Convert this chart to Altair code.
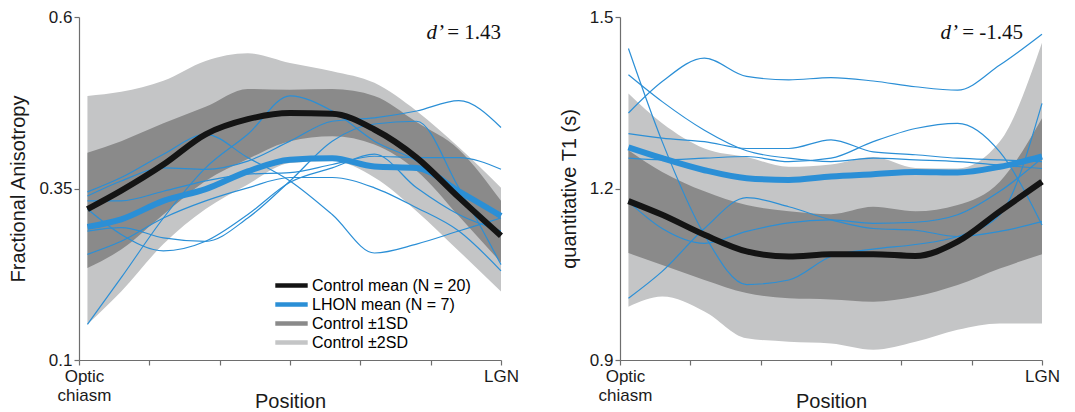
import altair as alt
import pandas as pd

# Positions along the optic tract (0 = optic chiasm, 100 = LGN)
X = [2, 10, 20, 30, 40, 50, 60, 70, 80, 90, 100]

# ---------- Left panel: Fractional Anisotropy ----------
FA_CTRL_MEAN = [0.320, 0.347, 0.385, 0.429, 0.451, 0.460, 0.459, 0.436, 0.395, 0.337, 0.281]
FA_LHON_MEAN = [0.294, 0.305, 0.332, 0.349, 0.375, 0.392, 0.394, 0.382, 0.380, 0.346, 0.310]
FA_SD1_LO = [0.234, 0.261, 0.312, 0.361, 0.393, 0.419, 0.426, 0.414, 0.376, 0.310, 0.242]
FA_SD1_HI = [0.402, 0.419, 0.445, 0.469, 0.495, 0.494, 0.495, 0.485, 0.447, 0.407, 0.332]
FA_SD2_LO = [0.152, 0.200, 0.269, 0.320, 0.356, 0.387, 0.390, 0.366, 0.317, 0.259, 0.200]
FA_SD2_HI = [0.485, 0.491, 0.507, 0.536, 0.547, 0.533, 0.521, 0.504, 0.463, 0.410, 0.351]
FA_S1 = [0.152, 0.220, 0.307, 0.380, 0.429, 0.485, 0.463, 0.419, 0.390, 0.341, 0.283]
FA_S2 = [0.345, 0.366, 0.400, 0.429, 0.395, 0.361, 0.312, 0.256, 0.269, 0.288, 0.307]
FA_S3 = [0.339, 0.361, 0.380, 0.378, 0.390, 0.419, 0.448, 0.453, 0.463, 0.478, 0.439]
FA_S4 = [0.332, 0.332, 0.346, 0.361, 0.371, 0.373, 0.385, 0.397, 0.395, 0.395, 0.378]
FA_S5 = [0.320, 0.283, 0.259, 0.273, 0.312, 0.359, 0.380, 0.400, 0.351, 0.312, 0.288]
FA_S6 = [0.254, 0.273, 0.307, 0.332, 0.351, 0.366, 0.366, 0.351, 0.322, 0.288, 0.230]
FA_S7 = [0.288, 0.293, 0.278, 0.273, 0.307, 0.361, 0.419, 0.444, 0.448, 0.351, 0.239]

# ---------- Right panel: quantitative T1 ----------
T1_CTRL_MEAN = [1.178, 1.154, 1.119, 1.090, 1.081, 1.085, 1.085, 1.082, 1.107, 1.160, 1.212]
T1_LHON_MEAN = [1.272, 1.253, 1.232, 1.218, 1.215, 1.221, 1.225, 1.229, 1.228, 1.238, 1.256]
T1_SD1_LO = [1.087, 1.066, 1.040, 1.017, 1.008, 1.006, 1.002, 1.011, 1.031, 1.060, 1.085]
T1_SD1_HI = [1.267, 1.229, 1.195, 1.171, 1.160, 1.155, 1.168, 1.160, 1.171, 1.212, 1.323]
T1_SD2_LO = [0.993, 1.011, 0.985, 0.938, 0.932, 0.929, 0.918, 0.932, 0.953, 0.964, 0.964]
T1_SD2_HI = [1.366, 1.314, 1.270, 1.255, 1.238, 1.242, 1.255, 1.236, 1.235, 1.282, 1.455]
T1_S1 = [1.445, 1.282, 1.119, 1.032, 1.040, 1.081, 1.094, 1.102, 1.116, 1.154, 1.349]
T1_S2 = [1.008, 1.055, 1.130, 1.184, 1.168, 1.145, 1.130, 1.127, 1.116, 1.125, 1.142]
T1_S3 = [1.177, 1.130, 1.104, 1.125, 1.140, 1.145, 1.139, 1.141, 1.154, 1.195, 1.253]
T1_S4 = [1.332, 1.387, 1.428, 1.396, 1.390, 1.394, 1.388, 1.378, 1.372, 1.416, 1.470]
T1_S5 = [1.399, 1.352, 1.302, 1.266, 1.253, 1.247, 1.253, 1.250, 1.247, 1.241, 1.235]
T1_S6 = [1.296, 1.288, 1.282, 1.270, 1.270, 1.285, 1.264, 1.259, 1.253, 1.250, 1.247]
T1_S7 = [1.253, 1.250, 1.253, 1.256, 1.247, 1.253, 1.282, 1.305, 1.314, 1.264, 1.136]

SERIES = ["Control mean (N = 20)", "LHON mean (N = 7)", "Control \u00b11SD", "Control \u00b12SD"]
COLORS = ["#141414", "#2b8fd6", "#8a8a8a", "#c4c5c6"]
BLUE = "#2b8fd6"

XTICKS = [0, 100 / 6, 200 / 6, 50, 400 / 6, 500 / 6, 100]
FONT = "Liberation Sans"
AXIS_GRAY = "#6e6e6e"


def band_df(lo, hi, name):
    return pd.DataFrame({"x": X, "lo": lo, "hi": hi, "series": name})


def line_df(vals, name):
    return pd.DataFrame({"x": X, "v": vals, "series": name})


def subj_df(subjects):
    frames = [pd.DataFrame({"x": X, "v": s, "subj": f"s{i}"}) for i, s in enumerate(subjects)]
    return pd.concat(frames, ignore_index=True)


def panel(ctrl, lhon, sd1lo, sd1hi, sd2lo, sd2hi, subjects, ydom, yticks, yfmt,
          ytitle, dval, dx_pos, dy, d_dx, show_legend):
    xaxis = alt.Axis(
        values=XTICKS, title="Position", grid=False,
        labelExpr="datum.value == 0 ? ['Optic', 'chiasm'] : (datum.value == 100 ? 'LGN' : '')",
        labelFlush=False, labelOverlap=False, labelLineHeight=19,
        labelOffset={"condition": {"test": "datum.value == 0", "value": 5}, "value": 0},
        tickSize=5, labelPadding=3, titleY=47, titleBaseline="alphabetic",
    )
    xenc = alt.X("x:Q", scale=alt.Scale(domain=[0, 100], nice=False, zero=False), axis=xaxis)
    yaxis = alt.Axis(values=yticks, format=yfmt, title=ytitle, grid=False,
                     tickSize=5, labelPadding=2, titlePadding=10)
    yscale = alt.Scale(domain=ydom, nice=False, zero=False)

    if show_legend:
        legend = alt.Legend(
            title=None, orient="none", legendX=202, legendY=258,
            symbolType="M-1.6,-0.13H1.6V0.13H-1.6Z", symbolSize=361,
            symbolStrokeWidth=2, labelFont=FONT, labelFontSize=16,
            labelColor="black", labelOffset=10, rowPadding=0, padding=0,
        )
        cenc = alt.Color("series:N", scale=alt.Scale(domain=SERIES, range=COLORS), legend=legend)
    else:
        cenc = None

    def colr(name):
        if cenc is not None:
            return cenc
        return alt.value(COLORS[SERIES.index(name)])

    sd2 = alt.Chart(band_df(sd2lo, sd2hi, SERIES[3])).mark_area(interpolate="monotone").encode(
        x=xenc, y=alt.Y("lo:Q", scale=yscale, axis=yaxis), y2="hi:Q", color=colr(SERIES[3]))
    sd1 = alt.Chart(band_df(sd1lo, sd1hi, SERIES[2])).mark_area(interpolate="monotone").encode(
        x=xenc, y=alt.Y("lo:Q", scale=yscale, axis=yaxis), y2="hi:Q", color=colr(SERIES[2]))
    thin = alt.Chart(subj_df(subjects)).mark_line(
        interpolate="monotone", strokeWidth=1.2, color=BLUE).encode(
        x=xenc, y=alt.Y("v:Q", scale=yscale, axis=yaxis), detail="subj:N")
    lh = alt.Chart(line_df(lhon, SERIES[1])).mark_line(interpolate="monotone", strokeWidth=6).encode(
        x=xenc, y=alt.Y("v:Q", scale=yscale, axis=yaxis), color=colr(SERIES[1]))
    ct = alt.Chart(line_df(ctrl, SERIES[0])).mark_line(interpolate="monotone", strokeWidth=6).encode(
        x=xenc, y=alt.Y("v:Q", scale=yscale, axis=yaxis), color=colr(SERIES[0]))

    tdf = pd.DataFrame({"x": [dx_pos], "y": [dy], "num": ["= " + dval], "d": ["d\u2019"]})
    t_num = alt.Chart(tdf).mark_text(align="right", baseline="alphabetic", font="Liberation Serif",
                                     fontSize=21, color="#111").encode(
        x=xenc, y=alt.Y("y:Q", scale=yscale, axis=yaxis), text="num:N")
    t_d = alt.Chart(tdf).mark_text(align="right", baseline="alphabetic", font="Liberation Serif",
                                   fontSize=21, fontStyle="italic", dx=d_dx, color="#111").encode(
        x=xenc, y=alt.Y("y:Q", scale=yscale, axis=yaxis), text="d:N")

    return alt.layer(sd2, sd1, thin, lh, ct, t_num, t_d).properties(width=422, height=343)


left = panel(FA_CTRL_MEAN, FA_LHON_MEAN, FA_SD1_LO, FA_SD1_HI, FA_SD2_LO, FA_SD2_HI,
             [FA_S1, FA_S2, FA_S3, FA_S4, FA_S5, FA_S6, FA_S7],
             [0.1, 0.6], [0.1, 0.35, 0.6], ".2~f", "Fractional Anisotropy",
             "1.43", 100, 0.568, -57, True)
right = panel(T1_CTRL_MEAN, T1_LHON_MEAN, T1_SD1_LO, T1_SD1_HI, T1_SD2_LO, T1_SD2_HI,
              [T1_S1, T1_S2, T1_S3, T1_S4, T1_S5, T1_S6, T1_S7],
              [0.9, 1.5], [0.9, 1.2, 1.5], ".1f", "quantitative T1 (s)",
              "-1.45", 95.5, 1.4615, -65, False)

chart = alt.hconcat(left, right, spacing=40).resolve_scale(
    x="independent", y="independent", color="independent"
).properties(
    padding={"left": 0, "top": 0, "right": 0, "bottom": 0}
).configure_view(stroke=None).configure_axis(
    labelFont=FONT, titleFont=FONT, labelFontSize=17, titleFontSize=20,
    titleFontWeight="normal", labelColor="#1a1a1a", titleColor="#1a1a1a",
    domainColor=AXIS_GRAY, tickColor=AXIS_GRAY, domainWidth=1.2, tickWidth=1.2,
)

chart.save("out.html", embed_options={"renderer": "svg", "actions": False})
